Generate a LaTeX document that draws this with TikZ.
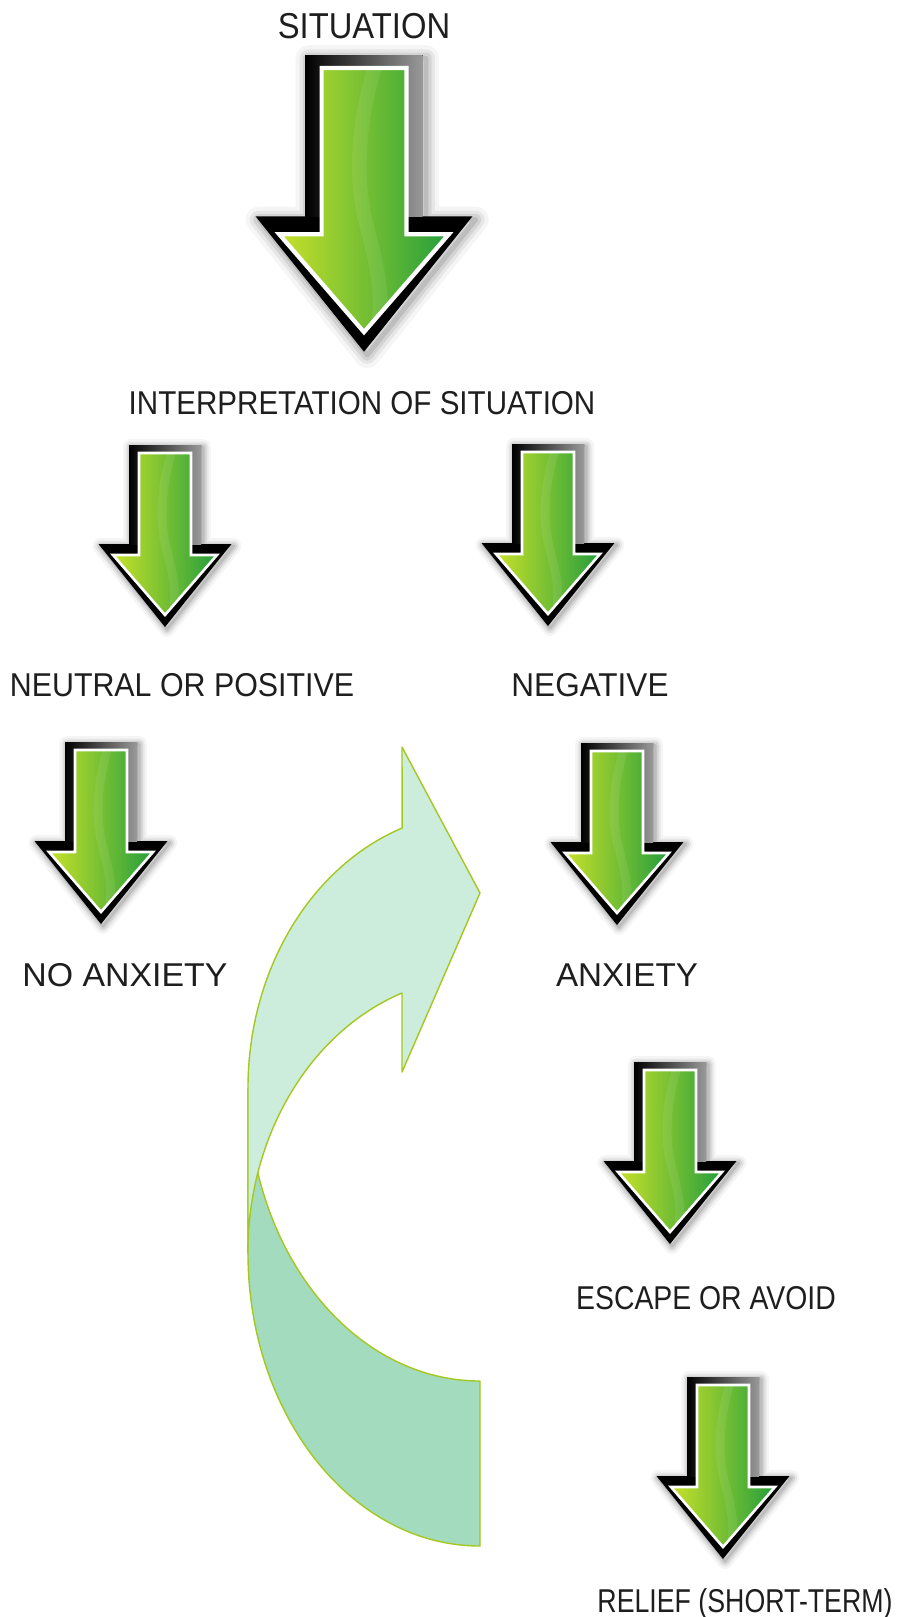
\documentclass[tikz,border=0pt]{standalone}
\usepackage{fontspec}
\setmainfont{Liberation Sans}
\definecolor{txt}{HTML}{1E1E1E}
\definecolor{gyel}{HTML}{C8E12A}
\definecolor{ggrn}{HTML}{249E3C}
\definecolor{clight}{HTML}{CDEDDC}
\definecolor{cdark}{HTML}{A3DBBE}
\definecolor{cline}{HTML}{A4C81E}
\tikzset{
  lbl/.style={font=\fontsize{16.5}{18}\selectfont, text=txt, inner sep=0pt, anchor=base, xscale=#1, transform shape},
  bandlight/.style={fill=clight, draw=cline, line width=0.7pt, line join=round},
  banddark/.style={fill=cdark, draw=cline, line width=0.7pt, line join=round},
  pics/garrow/.style={code={
    \begin{scope}[scale=#1]
      \foreach \w/\o in {16/0.04,11/0.06,7/0.08,3/0.1}{
        \draw[line width=\w*#1*0.5pt, black, opacity=\o, line join=round]
          (-34,2) -- (38,2) -- (38,101) -- (68.5,101) -- (2,184) -- (-64.5,101) -- (-34,101) -- cycle;
      }
      \fill[black] (-36,0) -- (36,0) -- (36,99) -- (66.5,99) -- (0,182) -- (-66.5,99) -- (-36,99) -- cycle;
      \fill[left color=black, right color=black!40] (-36,0) rectangle (36,99);
      \shade[left color=gyel, right color=ggrn]
        (-26,8) -- (26,8) -- (26,110) -- (52,110) -- (0,170) -- (-52,110) -- (-26,110) -- cycle;
      \begin{scope}
        \clip (-26,8) -- (26,8) -- (26,110) -- (52,110) -- (0,170) -- (-52,110) -- (-26,110) -- cycle;
        \fill[white, opacity=0.08] (2,8) .. controls (-8,40) and (-10,75) .. (-4,100)
          .. controls (2,125) and (9,145) .. (3,172) -- (12,172)
          .. controls (18,145) and (11,125) .. (5,100)
          .. controls (-1,75) and (1,40) .. (11,8) -- cycle;
      \end{scope}
      \draw[white, line width=#1*1.3pt, line join=miter]
        (-26,8) -- (26,8) -- (26,110) -- (52,110) -- (0,170) -- (-52,110) -- (-26,110) -- cycle;
    \end{scope}
  }}
}
\begin{document}
\begin{tikzpicture}[x=0.5pt,y=-0.5pt]
\useasboundingbox (0,0) rectangle (900,1617);
\fill[white] (0,0) rectangle (900,1617);

% curved loop arrow
\path[banddark] (248,1088) -- (248,1253)
  arc[start angle=180, end angle=90, x radius=232, y radius=293]
  -- (480,1381)
  arc[start angle=90, end angle=180, x radius=232, y radius=293] -- cycle;
\path[bandlight] (248,1253) -- (248,1088)
  arc[start angle=180, end angle=250.4, x radius=232, y radius=276]
  -- (402,747) -- (480,893) -- (402,1072) -- (402,993)
  arc[start angle=250.4, end angle=180, x radius=232, y radius=276] -- cycle;

% green arrows
\pic (a1) at (364,55) {garrow=1.63};
\pic (a2) at (165,445) {garrow=1};
\pic (a3) at (548,444) {garrow=1};
\pic (a4) at (101,742) {garrow=1};
\pic (a5) at (617,743) {garrow=1};
\pic (a6) at (670,1062) {garrow=1};
\pic (a7) at (723,1377) {garrow=1};

% labels
\node[lbl=0.91, font=\fontsize{18}{20}\selectfont] (sit) at (364,38) {SITUATION};
\node[lbl=0.896] (interp) at (362,414) {INTERPRETATION OF SITUATION};
\node[lbl=0.92] (neut) at (182,696) {NEUTRAL OR POSITIVE};
\node[lbl=0.955] (neg) at (590,696) {NEGATIVE};
\node[lbl=1.026] (noanx) at (125,986) {NO ANXIETY};
\node[lbl=1.005] (anx) at (627,986) {ANXIETY};
\node[lbl=0.86] (esc) at (706,1309) {ESCAPE OR AVOID};
\node[lbl=0.81] (rel) at (745,1612) {RELIEF (SHORT-TERM)};
\end{tikzpicture}
\end{document}
